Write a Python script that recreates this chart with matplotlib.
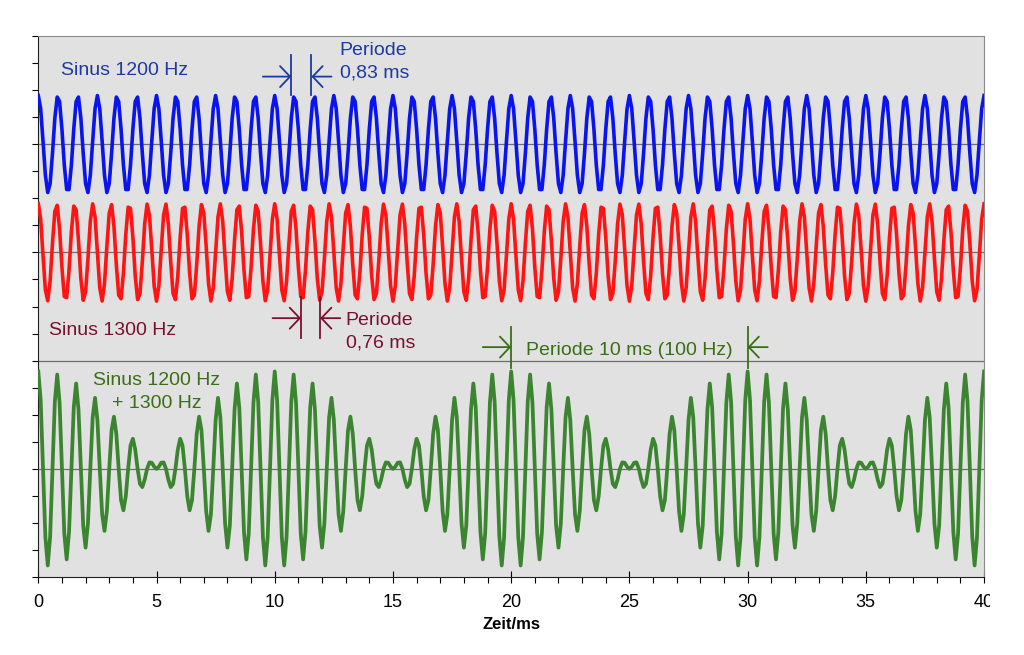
import numpy as np
import matplotlib
matplotlib.use("Agg")
import matplotlib.pyplot as plt
from matplotlib.transforms import Bbox

plt.rcParams["font.family"] = ["Liberation Sans", "DejaVu Sans"]

# signal parameters
FREQS_HZ = [1200.0, 1300.0]          # blue, red
AMPLITUDE = 1.8                      # y units (one minor tick = 1 unit)
OFFSET_BLUE = 16.0
OFFSET_RED = 12.0
OFFSET_SUM = 4.0
SAMPLE_RATE = 10000.0                # Hz, gives the slightly angular look
T_END_MS = 40.0

X_TICKS = [0, 5, 10, 15, 20, 25, 30, 35, 40]
GRID_Y = [4, 8, 12, 16]

# annotation marks (ms)
BLUE_PERIOD = [10.7, 11.55]
RED_PERIOD = [11.11, 11.92]
SUM_PERIOD = [20.0, 30.0]

C_BLUE, C_RED, C_GREEN = "#0a14f0", "#ff1414", "#3c8530"
T_BLUE, T_RED, T_GREEN = "#1c3aa0", "#7a1030", "#3a6e14"
FS = 14

t_ms = np.arange(0, T_END_MS + 1e-9, 1000.0 / SAMPLE_RATE)
s1 = AMPLITUDE * np.cos(2 * np.pi * FREQS_HZ[0] * t_ms / 1000.0)
s2 = AMPLITUDE * np.cos(2 * np.pi * FREQS_HZ[1] * t_ms / 1000.0)

fig = plt.figure(figsize=(10.24, 6.55), dpi=100)
ax = fig.add_axes([0.0374, 0.119, 0.9236, 0.826])
ax.set_facecolor("#e1e1e1")
ax.set_xlim(0, T_END_MS)
ax.set_ylim(0, 20)

for g in GRID_Y:
    ax.axhline(g, color="#6e6e6e", lw=0.9, zorder=1)

ax.plot(t_ms, s1 + OFFSET_BLUE, color=C_BLUE, lw=2.6, zorder=3)
ax.plot(t_ms, s2 + OFFSET_RED, color=C_RED, lw=2.6, zorder=3)
ax.plot(t_ms, s1 + s2 + OFFSET_SUM, color=C_GREEN, lw=2.7, zorder=3)

for side in ["top", "right"]:
    ax.spines[side].set_color("#8a8a8a")
for side in ["left", "bottom"]:
    ax.spines[side].set_color("#202020")

ax.set_xticks(X_TICKS)
ax.set_xticks(np.arange(0, 41, 1), minor=True)
ax.set_yticks(np.arange(0, 21, 1))
ax.set_yticklabels([])
ax.tick_params(axis="x", which="major", direction="inout", length=9, width=0.8,
               labelsize=13, pad=8)
ax.tick_params(axis="x", which="minor", direction="out", length=4, width=0.8)
ax.tick_params(axis="y", direction="out", length=4, width=0.8)
ax.set_xlabel("Zeit/ms", fontsize=12, fontweight="bold", labelpad=4)


def period_marks(x0, x1, y_lo, y_hi, y_arr, color, left_len=1.2, right_len=0.85):
    ax.plot([x0, x0], [y_lo, y_hi], color=color, lw=1.3, zorder=4)
    ax.plot([x1, x1], [y_lo, y_hi], color=color, lw=1.3, zorder=4)
    arrow = dict(arrowstyle="->,head_length=0.4,head_width=0.42", color=color,
                 lw=1.3, mutation_scale=18, shrinkA=0, shrinkB=0)
    ax.annotate("", xy=(x0, y_arr), xytext=(x0 - left_len, y_arr), arrowprops=arrow, zorder=4)
    ax.annotate("", xy=(x1, y_arr), xytext=(x1 + right_len, y_arr), arrowprops=arrow, zorder=4)


# blue annotation
period_marks(BLUE_PERIOD[0], BLUE_PERIOD[1], 17.82, 19.3, 18.5, T_BLUE)
ax.text(12.75, 19.48, "Periode", color=T_BLUE, fontsize=FS, va="center")
ax.text(12.75, 18.63, "0,83 ms", color=T_BLUE, fontsize=FS, va="center")
ax.text(0.95, 18.74, "Sinus 1200 Hz", color=T_BLUE, fontsize=FS, va="center")

# red annotation
period_marks(RED_PERIOD[0], RED_PERIOD[1], 8.84, 10.35, 9.57, T_RED)
ax.text(13.0, 9.5, "Periode", color=T_RED, fontsize=FS, va="center")
ax.text(13.0, 8.65, "0,76 ms", color=T_RED, fontsize=FS, va="center")
ax.text(0.45, 9.13, "Sinus 1300 Hz", color=T_RED, fontsize=FS, va="center")

# green annotation
period_marks(SUM_PERIOD[0], SUM_PERIOD[1], 7.73, 9.24, 8.5, T_GREEN)
ax.text(25.0, 8.39, "Periode 10 ms (100 Hz)", color=T_GREEN, fontsize=FS,
        va="center", ha="center")
ax.text(5.0, 7.28, "Sinus 1200 Hz", color=T_GREEN, fontsize=FS, va="center", ha="center")
ax.text(5.0, 6.43, "+ 1300 Hz", color=T_GREEN, fontsize=FS, va="center", ha="center")

# the right-most tick label is cut off in the reference
clip = Bbox([[0, 0], [990, 655]])
for lab in ax.get_xticklabels():
    lab.set_clip_box(clip)
    lab.set_clip_on(True)

fig.savefig("out.png", dpi=100, facecolor="white")
